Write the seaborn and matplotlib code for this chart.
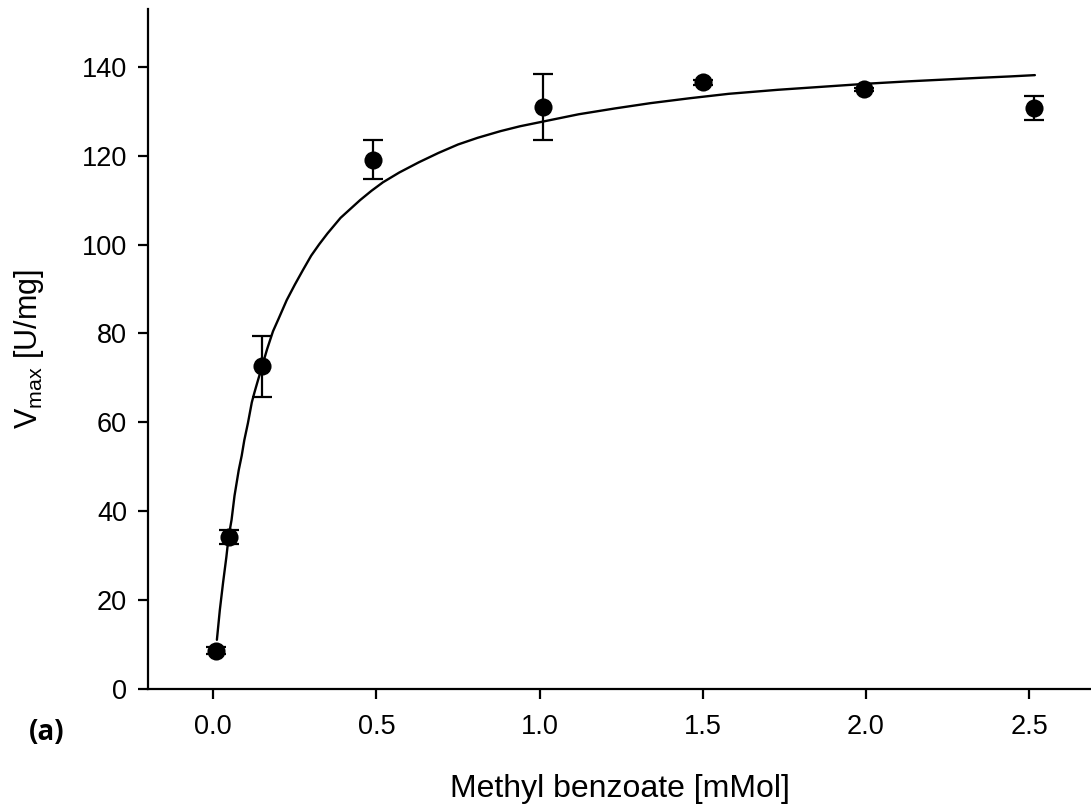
import numpy as np
import pandas as pd
import matplotlib
matplotlib.use("Agg")
import matplotlib.pyplot as plt
import seaborn as sns

# measured points (mean +/- error)
conc = [0.009, 0.047, 0.149, 0.490, 1.011, 1.500, 1.993, 2.515]
vmax = [8.6, 34.3, 72.6, 119.1, 130.9, 136.5, 134.9, 130.7]
vmax_err = [0.8, 1.6, 6.8, 4.3, 7.5, 0.6, 0.3, 2.8]

# fitted curve
fit_x = [0.011, 0.020, 0.030, 0.040, 0.047, 0.056, 0.065, 0.078, 0.087, 0.095,
         0.106, 0.118, 0.126, 0.135, 0.149, 0.165, 0.183, 0.200, 0.225, 0.250,
         0.275, 0.300, 0.325, 0.350, 0.390, 0.420, 0.450, 0.485, 0.520, 0.570,
         0.630, 0.690, 0.750, 0.810, 0.880, 0.940, 1.000, 1.120, 1.230, 1.340,
         1.460, 1.580, 1.730, 1.890, 2.010, 2.130, 2.240, 2.350, 2.440, 2.518]
fit_y = [11.1, 17.8, 24.0, 29.7, 34.3, 38.1, 43.5, 49.3, 52.5, 56.0,
         59.8, 64.5, 66.7, 69.0, 72.5, 76.5, 80.5, 83.3, 87.5, 91.0,
         94.3, 97.5, 100.1, 102.5, 106.0, 108.0, 110.0, 112.1, 114.0, 116.2,
         118.5, 120.6, 122.5, 124.0, 125.5, 126.6, 127.5, 129.3, 130.6, 131.8,
         132.9, 133.9, 134.8, 135.6, 136.2, 136.7, 137.1, 137.5, 137.8, 138.1]

x_ticks = [0.0, 0.5, 1.0, 1.5, 2.0, 2.5]
y_ticks = [0, 20, 40, 60, 80, 100, 120, 140]

sns.set_style("ticks")
plt.rcParams['font.family'] = ['Liberation Sans', 'DejaVu Sans']
plt.rcParams['mathtext.fontset'] = 'custom'
plt.rcParams['mathtext.rm'] = 'Liberation Sans'
plt.rcParams['mathtext.it'] = 'Liberation Sans'
plt.rcParams['text.color'] = 'black'
plt.rcParams['axes.labelcolor'] = 'black'
plt.rcParams['xtick.color'] = 'black'
plt.rcParams['ytick.color'] = 'black'

pts = pd.DataFrame({'conc': conc, 'vmax': vmax, 'err': vmax_err})
fit = pd.DataFrame({'x': fit_x, 'y': fit_y})

fig = plt.figure(figsize=(10.91, 8.07), dpi=100)
ax = fig.add_axes([0.1357, 0.146, 0.8643, 0.843])

sns.lineplot(data=fit, x='x', y='y', color='black', linewidth=1.7, ax=ax, sort=False)
ax.errorbar(pts['conc'], pts['vmax'], yerr=pts['err'], fmt='none', ecolor='black',
            elinewidth=1.6, capsize=7, capthick=1.6)
sns.scatterplot(data=pts, x='conc', y='vmax', color='black', s=170, edgecolor='black',
                linewidth=0, ax=ax, zorder=5)

ax.set_xlim(-0.2, 2.69)
ax.set_ylim(0, 153)
ax.set_xticks(x_ticks)
ax.set_xticklabels([f"{t:.1f}" for t in x_ticks])
ax.set_yticks(y_ticks)

sns.despine(ax=ax)
for s in ['left', 'bottom']:
    ax.spines[s].set_linewidth(1.6)
    ax.spines[s].set_color('black')
ax.tick_params(axis='both', direction='out', length=7, width=1.6, colors='black',
               labelcolor='black', labelsize=19.5)
ax.tick_params(axis='x', pad=11)
ax.tick_params(axis='y', pad=8)

ax.set_xlabel('Methyl benzoate [mMol]', fontsize=23, labelpad=24, color='black')
ax.set_ylabel(r'V$_{\mathrm{max}}$ [U/mg]', fontsize=22, color='black')
ax.yaxis.set_label_coords(-0.108, 0.5)

fig.text(0.043, 0.092, '(a)', fontsize=20, fontweight='bold', color='black',
         family=['Open Sans', 'DejaVu Sans'], ha='center', va='center')

fig.savefig('out.png', dpi=100)
